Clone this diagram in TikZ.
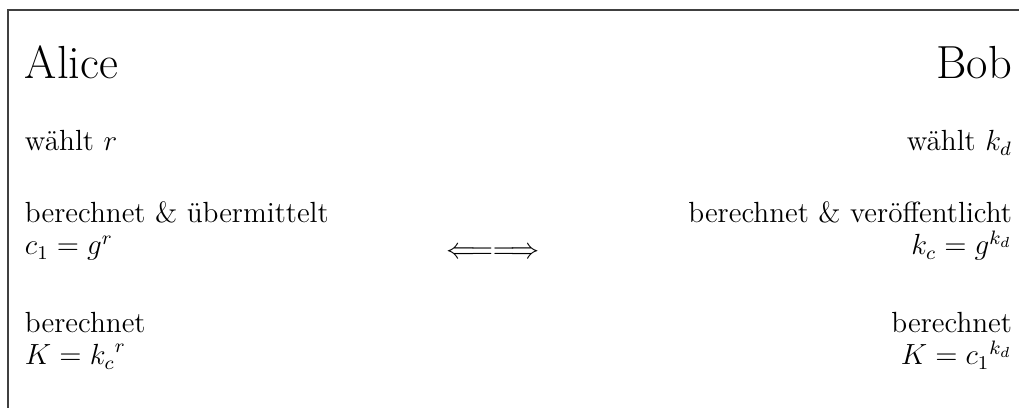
\documentclass[tikz,border=0pt]{standalone}
\begin{document}
\begin{tikzpicture}[x=0.4115pt,y=-0.4115pt,
  every node/.style={font=\fontsize{12}{14.4}\selectfont},
  lt/.style={anchor=base west,inner sep=0pt,outer sep=0pt},
  rt/.style={anchor=base east,inner sep=0pt,outer sep=0pt},
  title/.style={font=\fontsize{19.1}{23}\selectfont},
  frameline/.style={draw=black!75,line width=0.5pt}]
\useasboundingbox (0,0) rectangle (1019,408);
\draw[frameline] (8,420) -- (8,10) -- (1030,10);
% Alice side
\node[lt,title] (alice) at (25,79) {Alice};
\node[lt] (a1) at (25,151) {wählt $r$};
\node[lt] (a2) at (25,223) {berechnet \& übermittelt};
\node[lt] (a3) at (25,255) {$c_1 = g^r$};
\node[lt] (a4) at (25,333) {berechnet};
\node[lt] (a5) at (25,365) {$K = {k_c}^r$};
% Bob side
\node[rt,title] (bob) at (1012,79) {Bob};
\node[rt] (b1) at (1012,151) {wählt $k_d$};
\node[rt] (b2) at (1012,223) {berechnet \& veröffentlicht};
\node[rt] (b3) at (1012,255) {$k_c = g^{k_d}$};
\node[rt] (b4) at (1012,333) {berechnet};
\node[rt] (b5) at (1012,365) {$K = {c_1}^{k_d}$};
% exchange arrow
\node[anchor=base,inner sep=0pt] (ex) at (493,259) {$\Longleftarrow\Longrightarrow$};
\end{tikzpicture}
\end{document}
